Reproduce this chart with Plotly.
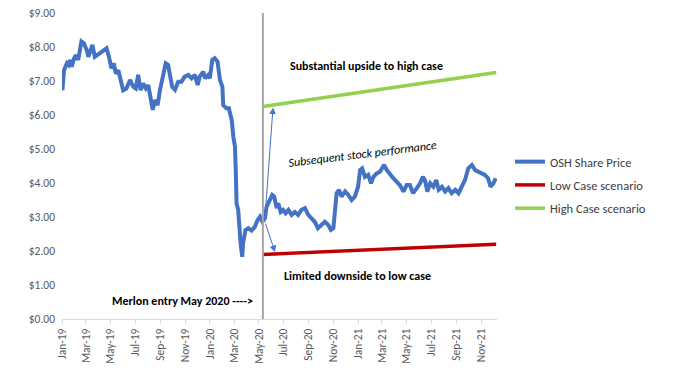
import plotly.graph_objects as go

# OSH share price
price_dates = [
    "2019-01-02","2019-01-06","2019-01-13","2019-01-17","2019-01-21","2019-01-25","2019-01-31",
    "2019-02-04","2019-02-10","2019-02-14","2019-02-18","2019-02-24","2019-03-03","2019-03-07",
    "2019-03-12","2019-03-17","2019-03-23","2019-03-29","2019-04-04","2019-04-13","2019-04-21",
    "2019-04-27","2019-05-03","2019-05-09","2019-05-14","2019-05-20","2019-05-26","2019-06-01",
    "2019-06-09","2019-06-18","2019-06-26","2019-07-02","2019-07-08","2019-07-14","2019-07-20",
    "2019-07-27","2019-08-02","2019-08-06","2019-08-13","2019-08-18","2019-08-25","2019-08-31",
    "2019-09-04","2019-09-10","2019-09-14","2019-09-20","2019-09-24","2019-09-30","2019-10-07",
    "2019-10-15","2019-10-23","2019-10-31","2019-11-09","2019-11-17","2019-11-25","2019-12-02",
    "2019-12-07","2019-12-16","2019-12-20","2019-12-28","2020-01-01","2020-01-07","2020-01-13",
    "2020-01-20","2020-01-26","2020-02-01","2020-02-03","2020-02-11","2020-02-17","2020-02-24",
    "2020-02-28","2020-03-03","2020-03-05","2020-03-07","2020-03-11","2020-03-13","2020-03-17",
    "2020-03-21","2020-03-23","2020-03-29","2020-04-05","2020-04-13","2020-04-21","2020-04-28",
    "2020-05-04","2020-05-10","2020-05-16","2020-05-20","2020-05-26","2020-06-03","2020-06-08",
    "2020-06-14","2020-06-18","2020-06-24","2020-06-30","2020-07-06","2020-07-13","2020-07-21",
    "2020-07-29","2020-08-06","2020-08-14","2020-08-23","2020-08-31","2020-09-08","2020-09-16",
    "2020-09-24","2020-10-03","2020-10-11","2020-10-19","2020-10-26","2020-11-01","2020-11-05",
    "2020-11-09","2020-11-15","2020-11-21","2020-11-30","2020-12-08","2020-12-16","2020-12-24",
    "2021-01-01","2021-01-06","2021-01-11","2021-01-18","2021-01-26","2021-02-02","2021-02-08",
    "2021-02-16","2021-02-24","2021-03-06","2021-03-13","2021-03-21","2021-03-29","2021-04-06",
    "2021-04-14","2021-04-23","2021-05-01","2021-05-09","2021-05-17","2021-05-26","2021-06-03",
    "2021-06-10","2021-06-15","2021-06-21","2021-06-28","2021-07-06","2021-07-13","2021-07-19",
    "2021-07-27","2021-08-04","2021-08-12","2021-08-20","2021-08-29","2021-09-06","2021-09-14",
    "2021-09-22","2021-09-30","2021-10-09","2021-10-17","2021-10-25","2021-11-02","2021-11-10",
    "2021-11-18","2021-11-24","2021-12-01","2021-12-07",
]
price_values = [
    6.73,7.32,7.52,7.47,7.62,7.42,7.67,
    7.76,7.62,8.01,8.16,8.11,7.91,7.71,
    7.91,8.06,7.71,7.76,7.81,7.91,7.96,
    7.71,7.37,7.52,7.22,7.32,7.03,6.73,
    6.78,7.03,6.83,6.78,7.18,6.73,6.93,
    6.78,6.88,6.59,6.15,6.44,6.29,6.74,
    6.93,7.22,7.52,7.47,7.18,6.83,6.74,
    6.98,6.98,7.13,7.18,7.08,7.18,6.88,
    7.13,7.27,7.08,7.18,7.08,7.62,7.67,
    7.57,7.03,6.83,6.29,6.20,6.20,5.85,
    5.36,5.07,4.38,3.40,3.21,2.81,2.22,
    1.83,2.22,2.62,2.67,2.60,2.71,2.91,
    3.01,2.86,2.96,3.30,3.45,3.65,3.60,
    3.26,3.40,3.15,3.21,3.11,3.21,3.06,
    3.15,3.06,3.21,3.26,3.06,2.96,2.86,
    2.67,2.77,2.86,2.77,2.62,2.67,3.11,
    3.70,3.80,3.60,3.75,3.65,3.50,3.60,
    3.89,4.38,4.43,4.18,4.24,3.99,4.18,
    4.28,4.33,4.53,4.38,4.24,4.14,4.04,
    3.94,3.75,3.94,3.94,3.70,3.85,3.99,
    4.18,4.09,3.75,3.99,3.89,4.09,3.80,
    3.89,3.75,3.85,3.70,3.80,3.70,3.89,
    4.09,4.43,4.53,4.38,4.33,4.28,4.24,
    4.14,3.89,3.99,4.14,
]

scenario_dates = ["2020-05-11", "2021-12-08"]
low_case = [1.90, 2.20]
high_case = [6.25, 7.25]

entry_date = "2020-05-11"
x_range = ["2019-01-01", "2021-12-10"]

FONT = "Carlito, Lato, sans-serif"
BLUE = "#4472C4"

fig = go.Figure()
fig.add_trace(go.Scatter(x=price_dates, y=price_values, mode="lines",
                         name="OSH Share Price", legendgroup="a",
                         line=dict(color=BLUE, width=4)))
fig.add_trace(go.Scatter(x=scenario_dates, y=low_case, mode="lines",
                         name="Low Case scenario", legendgroup="b",
                         line=dict(color="#C00000", width=3.5)))
fig.add_trace(go.Scatter(x=scenario_dates, y=high_case, mode="lines",
                         name="High Case scenario", legendgroup="c",
                         line=dict(color="#92D050", width=3.5)))

fig.add_shape(type="line", x0=entry_date, x1=entry_date, y0=0, y1=9,
              xref="x", yref="y", line=dict(color="#A6A6A6", width=2))

# arrows
fig.add_annotation(x="2020-06-05", y=6.22, ax="2020-05-16", ay=2.95,
                   xref="x", yref="y", axref="x", ayref="y", text="",
                   showarrow=True, arrowhead=2, arrowsize=1.3, arrowwidth=1,
                   arrowcolor=BLUE)
fig.add_annotation(x="2020-06-10", y=1.97, ax="2020-05-16", ay=2.85,
                   xref="x", yref="y", axref="x", ayref="y", text="",
                   showarrow=True, arrowhead=2, arrowsize=1.3, arrowwidth=1,
                   arrowcolor=BLUE)

txt = dict(family=FONT, size=12, color="#000000")
common = dict(xref="paper", yref="paper", showarrow=False, font=txt,
              xanchor="center", yanchor="middle")
fig.add_annotation(x=0.699, y=0.827, text="<b>Substantial upside to high case</b>", **common)
fig.add_annotation(x=0.690, y=0.539, text="<i>Subsequent stock performance</i>",
                   textangle=-7, **common)
fig.add_annotation(x=0.680, y=0.141, text="<b>Limited downside to low case</b>", **common)
fig.add_annotation(x=0.278, y=0.059, text="<b>Merlon entry May 2020 ----></b>", **common)

fig.update_layout(
    width=699, height=372,
    margin=dict(l=62, r=202, t=13, b=53, autoexpand=False),
    paper_bgcolor="white", plot_bgcolor="white",
    font=dict(family=FONT, size=11.5, color="#595959"),
    showlegend=True,
    legend=dict(x=1.03, y=0.562, xanchor="left", yanchor="top",
                font=dict(family=FONT, size=12.5, color="#404040"),
                traceorder="grouped", tracegroupgap=4,
                itemwidth=30, bgcolor="rgba(0,0,0,0)"),
    xaxis=dict(type="date", range=x_range, tick0="2019-01-01", dtick="M2",
               tickformat="%b-%y", tickangle=-90, showgrid=False,
               showline=True, linecolor="#D9D9D9", linewidth=1,
               ticks="outside", ticklen=4, tickcolor="#D9D9D9",
               automargin=False,
               tickfont=dict(family=FONT, size=11.5, color="#595959")),
    yaxis=dict(range=[0, 9], dtick=1, tickformat="$.2f", showgrid=False,
               showline=False, zeroline=False, ticks="", automargin=False,
               ticklabelstandoff=6,
               tickfont=dict(family=FONT, size=11.5, color="#595959")),
)

fig.write_html("out.html", config={"displayModeBar": False},
               post_script="document.body.style.margin='0';document.body.style.overflow='hidden';")
